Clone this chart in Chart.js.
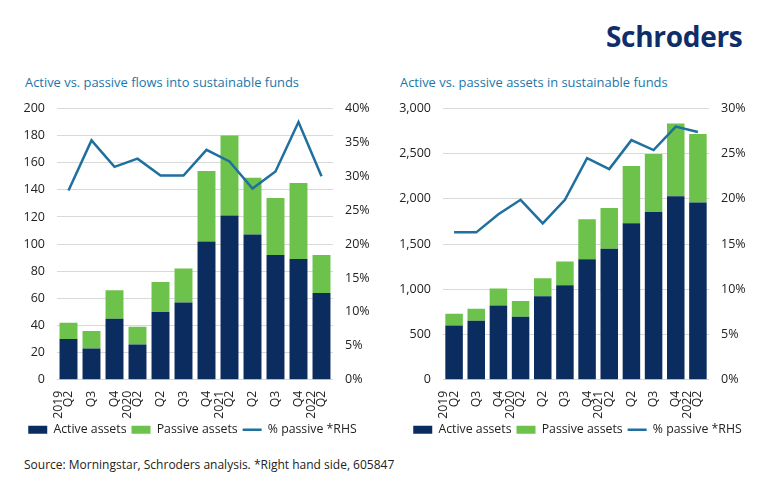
<!DOCTYPE html>
<html><head><meta charset="utf-8">
<script src="https://cdn.jsdelivr.net/npm/chart.js@4.4.1/dist/chart.umd.min.js"></script>
<style>
body{margin:0;width:770px;height:490px;background:#fff;position:relative;font-family:"Open Sans",sans-serif;overflow:hidden}
.t{position:absolute;color:#1b76ab;font-size:12.9px;top:73px;white-space:nowrap}
#logo{position:absolute;left:606px;top:17px;font-size:28px;font-weight:700;color:#0f2d69;letter-spacing:-0.3px}
#src{position:absolute;left:24px;top:456px;font-size:12px;color:#222;white-space:nowrap}
.c{position:absolute;top:89px;width:385px;height:357px}
</style></head><body>
<div id="logo">Schroders</div>
<div class="t" style="left:25px">Active vs. passive flows into sustainable funds</div>
<div class="t" style="left:400px">Active vs. passive assets in sustainable funds</div>
<div class="c" style="left:0"><canvas id="c1" width="385" height="357"></canvas></div>
<div class="c" style="left:385px"><canvas id="c2" width="385" height="357"></canvas></div>
<div id="src">Source: Morningstar, Schroders analysis. *Right hand side, 605847</div>
<script>
const categories = [["2019","Q2"],"Q3","Q4",["2020","Q2"],"Q2","Q3","Q4",["2021","Q2"],"Q2","Q3","Q4",["2022","Q2"]];
const seriesNames = ["Active assets","Passive assets","% passive *RHS"];

// Left chart: flows
const flowActive  = [30, 23, 45, 26, 50, 57, 102, 121, 107, 92, 89, 64];
const flowPassive = [12, 13, 21, 13, 22, 25, 52, 59, 42, 42, 56, 28];
const flowPctPassive = [27.9, 35.3, 31.4, 32.6, 30.1, 30.1, 33.9, 32.2, 28.2, 30.7, 38.0, 30.0];
const flowLeftTicks = [0, 200, 20];
const flowRightTicks = [0, 40, 5];

// Right chart: assets
const assetActive  = [600, 652, 822, 697, 922, 1044, 1333, 1449, 1730, 1856, 2030, 1960];
const assetPassive = [130, 133, 186, 174, 200, 264, 441, 451, 633, 641, 803, 759];
const assetPctPassive = [16.3, 16.3, 18.3, 19.9, 17.3, 19.9, 24.5, 23.3, 26.5, 25.4, 28.0, 27.4];
const assetLeftTicks = [0, 3000, 500];
const assetRightTicks = [0, 30, 5];

const NAVY = '#0b2c5f', GREEN = '#6cc24a', LINE = '#1f6f9f', TXT = '#222', GRID = '#d9d9d9';
const FONT = "'Open Sans', sans-serif";

// rotated multi-line labels: spread lines with a small line step so single labels stay centred
const STEP = 5.2;
const axisLabels = categories.map(c => Array.isArray(c) ? [c[0], "", c[1]] : ["", "", c]);

function makeChart(id, active, passive, pct, lt, rt, leftW, rightW, barPct) {
  new Chart(document.getElementById(id), {
    data: {
      labels: axisLabels,
      datasets: [
        {type:'bar', label:seriesNames[0], data:active, backgroundColor:NAVY, yAxisID:'y', order:1, pointStyle:'rect', borderWidth:0},
        {type:'bar', label:seriesNames[1], data:passive, backgroundColor:GREEN, yAxisID:'y', order:1, pointStyle:'rect', borderWidth:0},
        {type:'line', label:seriesNames[2], data:pct, borderColor:LINE, backgroundColor:LINE, borderWidth:2.5, pointRadius:0, pointStyle:'line', tension:0, yAxisID:'y1', order:0}
      ]
    },
    options: {
      responsive:false, animation:false,
      layout:{padding:{top:13, bottom:0, left:0, right:0}},
      datasets:{bar:{categoryPercentage:1, barPercentage:barPct}},
      plugins:{
        tooltip:{enabled:false},
        legend:{position:'bottom', labels:{usePointStyle:true, pointStyleWidth:19, boxHeight:8, padding:5, color:TXT,
          font:{family:FONT, size:12.3}, sort:(a,b)=>a.datasetIndex-b.datasetIndex}}
      },
      scales:{
        x:{stacked:true, grid:{display:false}, border:{display:false},
           ticks:{color:TXT, font:{family:FONT, size:12.3, lineHeight:STEP+'px'}, minRotation:90, maxRotation:90, padding:3,
                  autoSkip:false, labelOffset:-2*STEP},
           afterFit:s=>{s.height=39;}},
        y:{stacked:true, position:'left', min:lt[0], max:lt[1],
           grid:{color:GRID, drawTicks:false}, border:{display:false},
           ticks:{stepSize:lt[2], color:TXT, font:{family:FONT, size:12.5}, padding:12, callback:v=>v.toLocaleString('en-US')},
           afterFit:s=>{s.width=leftW;}},
        y1:{position:'right', min:rt[0], max:rt[1],
           grid:{display:false, drawTicks:false}, border:{display:false},
           ticks:{stepSize:rt[2], color:TXT, font:{family:FONT, size:12.5}, padding:12, callback:v=>v+'%'},
           afterFit:s=>{s.width=rightW;}}
      }
    }
  });
}
makeChart('c1', flowActive, flowPassive, flowPctPassive, flowLeftTicks, flowRightTicks, 57, 52, 0.78);
makeChart('c2', assetActive, assetPassive, assetPctPassive, assetLeftTicks, assetRightTicks, 58, 61, 0.79);
</script>
</body></html>
